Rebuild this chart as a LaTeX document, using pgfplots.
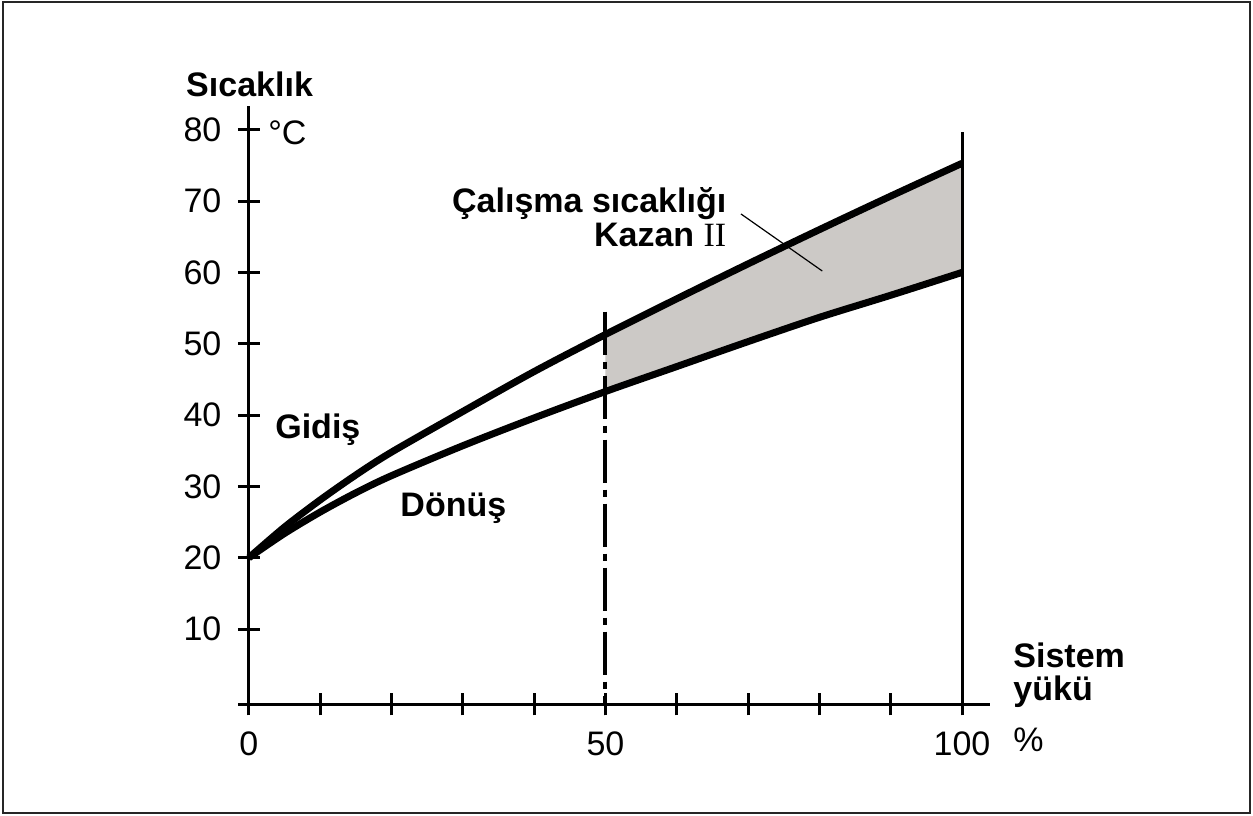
\documentclass[border=0pt]{standalone}
\usepackage{pgfplots}
\pgfplotsset{compat=1.18}
\usepackage{fontspec}
\setmainfont{Liberation Sans}
\newfontfamily\seriffont{Liberation Serif}
\definecolor{fillgray}{RGB}{204,201,198}
\newcommand{\lbl}{\fontsize{17}{20}\selectfont}
\begin{document}
\begin{tikzpicture}
\begin{axis}[
  x=3.565pt, y=3.565pt,
  xmin=-1.5, xmax=103.9, ymin=-0.56, ymax=83.4,
  axis x line=bottom, axis y line=middle,
  axis line style={-, line width=1.5pt, black},
  xtick={0,50,100}, minor xtick={10,20,...,90},
  ytick={10,20,...,80},
  tick align=center,
  major tick length=11pt, minor tick length=11pt,
  tick style={black, line width=1.5pt},
  clip=false,
  /pgf/number format/assume math mode=true,
  ticklabel style={font=\lbl},
  xticklabel style={yshift=-4.5pt},
  yticklabel style={xshift=-4.7pt},
]
% shaded operating area
\addplot[fill=fillgray, draw=none] coordinates {
  (50,51.3) (60,56.3) (70,61.2) (80,66) (90,70.7) (100,75.3)
  (100,60) (90,56.8) (80,53.7) (70,50.3) (60,46.8) (50,43.3)} -- cycle;
% Gidis (supply)
\addplot[black, line width=3.5pt, smooth, line join=round] coordinates {
  (0,20) (5,24.3) (10,28.1) (15,31.6) (20,34.8) (30,40.5) (40,46.1)
  (50,51.3) (60,56.3) (70,61.2) (80,66) (90,70.7) (100,75.3)};
% Donus (return)
\addplot[black, line width=3.5pt, smooth, line join=round] coordinates {
  (0,20) (5,23.4) (10,26.4) (15,29.1) (20,31.5) (30,35.7) (40,39.6)
  (50,43.3) (60,46.8) (70,50.3) (80,53.7) (90,56.8) (100,60)};
% vertical lines
\addplot[black, line width=2pt, dash pattern=on 21.5pt off 3.5pt on 3.5pt off 3.5pt] coordinates {(50,54.5) (50,-0.56)};
\addplot[black, line width=1.5pt] coordinates {(100,-0.56) (100,79.7)};
% leader line
\draw[black, line width=0.6pt] (axis cs:69.0,68.2) -- (axis cs:80.4,60.2);
% texts
\node[anchor=base west, font=\lbl\bfseries, inner sep=0pt] at (axis cs:-8.84,84.6) {Sıcaklık};
\node[anchor=base west, font=\lbl, inner sep=0pt] at (axis cs:2.66,78.0) {°C};
\node[anchor=base west, font=\lbl\bfseries, inner sep=0pt] at (axis cs:3.65,36.75) {Gidiş};
\node[anchor=base west, font=\lbl\bfseries, inner sep=0pt] at (axis cs:21.2,25.8) {Dönüş};
\node[anchor=base east, font=\lbl\bfseries, inner sep=0pt] at (axis cs:67.0,68.4) {Çalışma sıcaklığı};
\node[anchor=base east, font=\lbl\bfseries, inner sep=0pt] at (axis cs:67.0,63.7) {Kazan {\seriffont\mdseries II}};
\node[anchor=base west, font=\lbl\bfseries, inner sep=0pt] at (axis cs:107.15,4.6) {Sistem};
\node[anchor=base west, font=\lbl\bfseries, inner sep=0pt] at (axis cs:107.15,0.0) {yükü};
\node[anchor=base west, font=\lbl, inner sep=0pt] at (axis cs:107.15,-7.15) {\%};
% outer frame
\draw[black!85, line width=0.9pt] (axis cs:-34.5,97.9) rectangle (axis cs:140.4,-15.85);
\path (axis cs:-34.9,98.2) rectangle (axis cs:140.8,-16.2);
\end{axis}
\end{tikzpicture}
\end{document}
